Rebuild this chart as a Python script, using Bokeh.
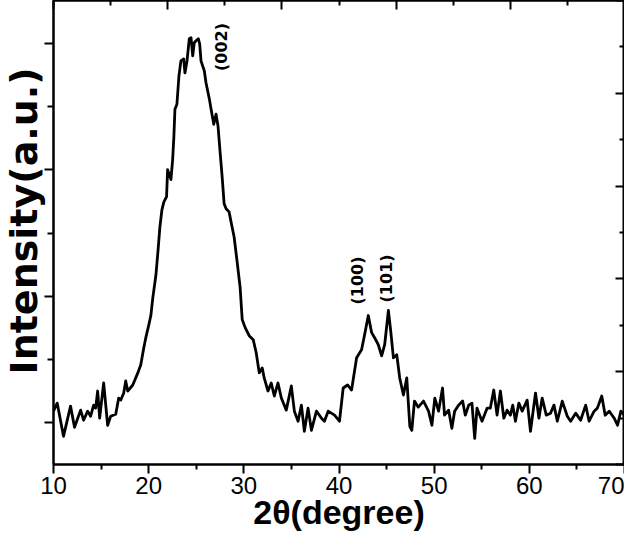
from bokeh.plotting import figure
from bokeh.models import (Range1d, LinearAxis, FixedTicker, CustomJSTickFormatter, ColumnDataSource, Title)
from bokeh.core.properties import value
from bokeh.embed import file_html
from bokeh.resources import INLINE

# ---- data: 2theta (degree) vs intensity (a.u.) ----
two_theta = [10.00, 10.39, 11.05, 11.79, 12.21, 12.85, 13.16, 13.59, 13.90, 14.22,
             14.43, 14.64, 14.85, 15.27, 15.69, 16.01, 16.54, 16.85, 17.07, 17.38,
             17.59, 17.80, 18.33, 18.86, 19.17, 19.49, 19.70, 20.02, 20.23, 20.44,
             20.76, 20.97, 21.18, 21.39, 21.60, 21.88, 21.99, 22.13, 22.34, 22.52,
             22.65, 22.76, 22.97, 23.18, 23.39, 23.68, 23.81, 24.03, 24.27, 24.45,
             24.63, 24.79, 24.97, 25.22, 25.36, 25.50, 25.85, 26.03, 26.38, 26.56,
             26.84, 27.08, 27.29, 27.50, 27.72, 27.93, 28.14, 28.45, 28.66, 28.98,
             29.30, 29.61, 29.83, 30.14, 30.56, 30.99, 31.30, 31.62, 31.93, 32.14,
             32.54, 32.88, 33.20, 33.59, 33.94, 34.46, 34.99, 35.31, 35.70, 36.05,
             36.36, 36.75, 37.10, 37.63, 38.16, 38.47, 38.86, 39.53, 40.05, 40.44,
             40.90, 41.32, 41.85, 42.37, 42.69, 43.08, 43.43, 43.74, 44.13, 44.48,
             44.80, 45.19, 45.43, 45.72, 46.07, 46.38, 46.77, 47.12, 47.44, 47.65,
             47.93, 48.33, 48.88, 49.41, 49.76, 50.07, 50.46, 50.88, 51.09, 51.52,
             51.86, 52.15, 52.57, 52.99, 53.27, 53.63, 53.97, 54.26, 54.50, 55.03,
             55.56, 55.90, 56.26, 56.61, 56.96, 57.32, 57.66, 58.01, 58.26, 58.54,
             58.90, 59.25, 59.77, 60.12, 60.65, 61.01, 61.35, 61.78, 62.23, 62.59,
             62.94, 63.46, 63.99, 64.34, 64.87, 65.39, 65.92, 66.28, 66.81, 67.15,
             67.61, 67.97, 68.39, 68.92, 69.27, 69.62, 69.97]
intensity = [53, 61, 28, 58, 37, 54, 44, 53, 48, 59,
             56, 73, 46, 81, 39, 48, 50, 66, 64, 71,
             83, 73, 79, 91, 99, 116, 126, 139, 148, 166,
             188, 211, 236, 253, 261, 266, 293, 289, 283, 303,
             326, 353, 358, 386, 401, 403, 389, 401, 423, 424,
             406, 419, 421, 423, 418, 401, 391, 379, 363, 353,
             338, 348, 336, 311, 286, 259, 254, 251, 241, 226,
             201, 176, 144, 136, 128, 124, 111, 91, 96, 86,
             73, 81, 68, 81, 66, 54, 78, 53, 43, 59,
             33, 56, 34, 53, 46, 43, 53, 49, 43, 76,
             79, 74, 106, 114, 129, 148, 131, 126, 119, 108,
             119, 153, 133, 106, 109, 86, 69, 86, 38, 34,
             63, 57, 63, 53, 39, 66, 53, 76, 49, 54,
             36, 53, 59, 63, 49, 59, 61, 26, 56, 43,
             56, 56, 74, 49, 73, 46, 54, 49, 59, 43,
             61, 53, 64, 33, 71, 46, 66, 49, 51, 59,
             43, 63, 48, 43, 51, 44, 59, 43, 53, 56,
             68, 49, 53, 46, 39, 53, 49]

peak_labels = ["(002)", "(100)", "(101)"]
peak_label_x = [27.7, 41.95, 45.0]
peak_label_y = [391, 159, 161]

x_major = [10, 20, 30, 40, 50, 60, 70]
x_minor = [15, 25, 35, 45, 55, 65]
top_major = [10, 22, 34, 46, 58, 70]
top_minor = [16, 28, 40, 52, 64]
left_major = [42, 167.3, 292.6, 418]
left_minor = [104.7, 230, 355.3]
right_major = [0, 92.2, 184.4, 276.6, 368.8, 461]
right_minor = [46.1, 138.3, 230.5, 322.7, 414.9]

FONT = "Liberation Sans"
WIDE = "DejaVu Sans"

p = figure(width=624, height=533, output_backend="svg", toolbar_location=None,
           x_range=Range1d(10, 70), y_range=Range1d(0, 461),
           x_axis_location=None, y_axis_location=None,
           min_border_left=0, min_border_right=0, min_border_top=0, min_border_bottom=0)
p.background_fill_color = "white"
p.border_fill_color = "white"
p.outline_line_color = "black"
p.outline_line_width = 2
p.xgrid.visible = False
p.ygrid.visible = False

empty = CustomJSTickFormatter(code="return ''")

def style(ax):
    ax.axis_line_color = "black"
    ax.axis_line_width = 2
    ax.major_tick_line_color = "black"
    ax.major_tick_line_width = 2
    ax.minor_tick_line_color = "black"
    ax.minor_tick_line_width = 2

xb = LinearAxis(ticker=FixedTicker(ticks=x_major, minor_ticks=x_minor),
                axis_label="2θ(degree)")
style(xb)
xb.major_tick_out = 9
xb.major_tick_in = 0
xb.minor_tick_out = 5
xb.minor_tick_in = 0
xb.major_label_text_font = FONT
xb.major_label_text_font_size = "24px"
xb.major_label_text_color = "black"
xb.major_label_standoff = 3
xb.axis_label_text_font = FONT
xb.axis_label_text_font_style = "bold"
xb.axis_label_text_font_size = "34px"
xb.axis_label_text_color = "black"
xb.axis_label_standoff = -4
p.add_layout(xb, "below")

xt = LinearAxis(ticker=FixedTicker(ticks=top_major, minor_ticks=top_minor), formatter=empty)
style(xt)
xt.major_tick_out = 0
xt.major_tick_in = 9
xt.minor_tick_out = 0
xt.minor_tick_in = 5
xt.major_label_standoff = 0
xt.major_label_text_font_size = "1px"
p.add_layout(xt, "above")

yl = LinearAxis(ticker=FixedTicker(ticks=left_major, minor_ticks=left_minor), formatter=empty)
style(yl)
yl.major_tick_out = 9
yl.major_tick_in = 0
yl.minor_tick_out = 6
yl.minor_tick_in = 0
yl.major_label_standoff = 0
yl.major_label_text_font_size = "1px"
p.add_layout(yl, "left")

ytitle = Title(text="Intensity(a.u.)", align="left", offset=90, standoff=-2,
               text_font=WIDE, text_font_style="bold", text_font_size="38px",
               text_color="black")
p.add_layout(ytitle, "left")

yr = LinearAxis(ticker=FixedTicker(ticks=right_major, minor_ticks=right_minor), formatter=empty)
style(yr)
yr.major_tick_out = 0
yr.major_tick_in = 9
yr.minor_tick_out = 0
yr.minor_tick_in = 5
yr.major_label_standoff = 0
yr.major_label_text_font_size = "1px"
p.add_layout(yr, "right")

src = ColumnDataSource(dict(x=two_theta, y=intensity))
p.line("x", "y", source=src, line_color="black", line_width=2.8, line_join="round")

lab = ColumnDataSource(dict(x=peak_label_x, y=peak_label_y, t=peak_labels))
p.text("x", "y", text="t", source=lab, angle=1.5708, text_align="left",
       text_baseline="middle", text_font=value(WIDE), text_font_style="bold",
       text_font_size="16px", text_color="black")

open("out.html", "w").write(file_html(p, INLINE))
